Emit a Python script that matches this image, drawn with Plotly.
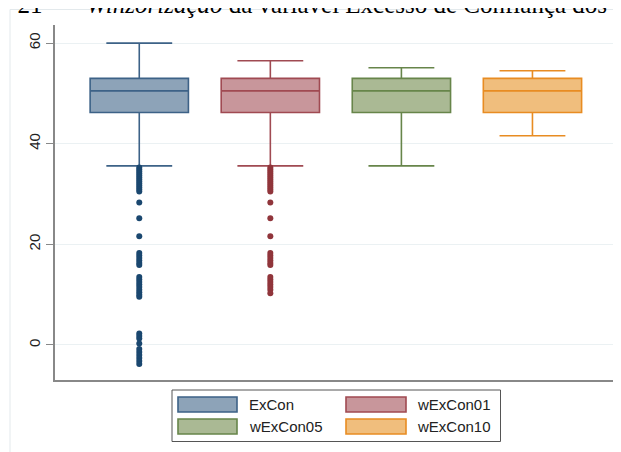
import plotly.graph_objects as go

# ---- data ----
series = ["ExCon", "wExCon01", "wExCon05", "wExCon10"]
q1 = [46.2, 46.2, 46.2, 46.2]
median = [50.5, 50.5, 50.5, 50.5]
q3 = [53.0, 53.0, 53.0, 53.0]
lower_whisker = [35.6, 35.6, 35.6, 41.6]
upper_whisker = [60.0, 56.5, 55.1, 54.5]
outliers_excon = [35.3, 34.9, 34.5, 34.1, 33.7, 33.3, 32.9, 32.5, 32.1, 31.7, 31.3, 30.9, 30.5,
                  28.3, 25.2, 21.6, 18.3, 17.8, 17.3, 16.8, 16.3, 15.9,
                  13.5, 13.0, 12.5, 12.0, 11.5, 11.0, 10.5, 10.0, 9.6,
                  2.3, 1.8, 1.3, 0.3, -0.8, -1.4, -2.0, -2.6, -3.2, -3.8]
outliers_w01 = [35.3, 34.9, 34.5, 34.1, 33.7, 33.3, 32.9, 32.5, 32.1, 31.7, 31.3, 30.9, 30.5,
                28.3, 25.2, 21.6, 18.3, 17.8, 17.3, 16.8, 16.3, 15.9,
                13.5, 13.0, 12.5, 12.0, 11.5, 11.0, 10.3]
y_ticks = [0, 20, 40, 60]

fills = ["#8DA3B8", "#C8969B", "#AAB994", "#F0BE7D"]
lines = ["#3D6287", "#A04A52", "#67854A", "#E88C22"]
dots = ["#1A476F", "#90353B"]

# ---- layout geometry (page pixels; page body has an 8px margin) ----
PAGE_W, PAGE_H = 621, 452
OFF = 8
W, H = PAGE_W - OFF, PAGE_H - OFF
L, R, T, B = 55, 617, 25, 380


def px(x):
    return (x - L) / (R - L)


def py(y):
    return (B - y) / (B - T)


fig = go.Figure()
for i, name in enumerate(series):
    fig.add_trace(go.Box(
        x=[i + 1], q1=[q1[i]], median=[median[i]], q3=[q3[i]],
        lowerfence=[lower_whisker[i]], upperfence=[upper_whisker[i]],
        name=name, fillcolor=fills[i], line=dict(color=lines[i], width=1.6),
        width=0.75, whiskerwidth=0.67, boxpoints=False, showlegend=False,
        hoverinfo="skip"))

for i, outs in enumerate([outliers_excon, outliers_w01]):
    fig.add_trace(go.Scatter(
        x=[i + 1] * len(outs), y=outs, mode="markers",
        marker=dict(color=dots[i], size=6), showlegend=False, hoverinfo="skip"))

shapes = []
annotations = []
# outer graph-region border
shapes.append(dict(type="rect", xref="paper", yref="paper",
                   x0=px(10), x1=px(660), y0=py(490), y1=py(9.5),
                   line=dict(color="#E3E9EC", width=1), layer="below"))
# legend box
shapes.append(dict(type="rect", xref="paper", yref="paper",
                   x0=px(172), x1=px(500.5), y0=py(441.5), y1=py(390),
                   line=dict(color="#555555", width=1), fillcolor="white"))
sym_x = [(178, 237), (346, 406), (178, 237), (346, 406)]
sym_y = [(397, 412), (397, 412), (419, 434), (419, 434)]
txt_x = [247, 415, 247, 415]
for i, name in enumerate(series):
    shapes.append(dict(type="rect", xref="paper", yref="paper",
                       x0=px(sym_x[i][0]), x1=px(sym_x[i][1]),
                       y0=py(sym_y[i][1]), y1=py(sym_y[i][0]),
                       line=dict(color=lines[i], width=1.6), fillcolor=fills[i]))
    annotations.append(dict(xref="paper", yref="paper", x=px(txt_x[i]),
                            y=py((sym_y[i][0] + sym_y[i][1]) / 2),
                            xanchor="left", yanchor="middle", showarrow=False,
                            text=name, font=dict(family="Liberation Sans", size=15, color="#222222")))

annotations.append(dict(xref="paper", yref="paper", x=px(-8), y=py(-11),
                        xanchor="left", yanchor="top", showarrow=False,
                        text="a\u00a0 21\u00a0 –\u00a0\u00a0 <i>Winzorização</i> da variável Excesso de Confiança dos",
                        font=dict(family="Liberation Serif", size=25, color="black")))

fig.update_layout(
    width=W, height=H, margin=dict(l=L - OFF, r=PAGE_W - R, t=T - OFF, b=PAGE_H - B),
    paper_bgcolor="white", plot_bgcolor="white",
    shapes=shapes, annotations=annotations,
    xaxis=dict(range=[0.357, 4.645], showticklabels=False, ticks="", showgrid=False,
               zeroline=False, showline=True, linecolor="#888888", linewidth=1.6,
               fixedrange=True),
    yaxis=dict(range=[-6.96, 63.6], tickvals=y_ticks, ticks="outside", ticklen=7,
               tickcolor="#888888", tickangle=-90, showgrid=True, gridcolor="#EBF1F3",
               gridwidth=1, zeroline=False, showline=True, linecolor="#888888",
               linewidth=1.6, tickfont=dict(family="Liberation Sans", size=15, color="#222222"),
               fixedrange=True),
    showlegend=False,
)

fig.write_html("out.html")
